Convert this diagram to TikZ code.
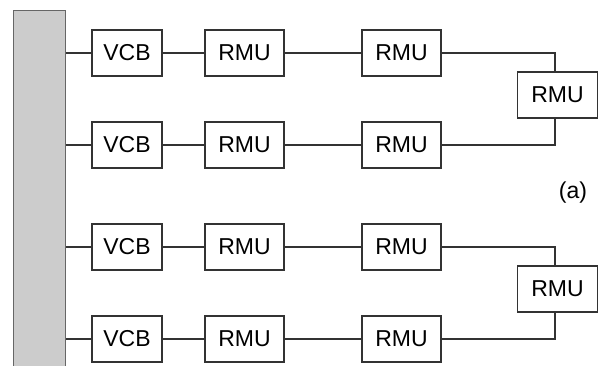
\documentclass[tikz,border=0pt]{standalone}
\usepackage{fontspec}
\setmainfont{Liberation Sans}
\definecolor{busfill}{HTML}{CCCCCC}
\definecolor{busline}{HTML}{666666}
\definecolor{wire}{HTML}{333333}
\begin{document}
\begin{tikzpicture}[x=1pt,y=-1pt,
  box/.style={draw=wire,line width=1.2pt,fill=white,minimum height=46pt,inner sep=0pt,
    font=\fontsize{23}{27}\selectfont},
  vcb/.style={box,minimum width=70pt},
  rmu/.style={box,minimum width=79pt},
  wireline/.style={draw=wire,line width=1.1pt}]
\useasboundingbox (0,0) rectangle (598,366);
\node[draw=busline,fill=busfill,line width=1.2pt,minimum width=52pt,minimum height=370pt,inner sep=0pt,anchor=north west] (bus) at (13,10) {};
% rows
\foreach \r/\y in {1/53,2/145,3/247,4/339}{
  \node[vcb] (v\r) at (127,\y) {VCB};
  \node[rmu] (a\r) at (244.5,\y) {RMU};
  \node[rmu] (b\r) at (401.5,\y) {RMU};
  \draw[wireline] (bus.east |- v\r.west) -- (v\r.west);
  \draw[wireline] (v\r) -- (a\r);
  \draw[wireline] (a\r) -- (b\r);
}
\node[rmu,minimum width=80pt] (c1) at (557.5,95) {RMU};
\node[rmu,minimum width=80pt] (c2) at (557.5,289) {RMU};
\coordinate (t1) at (555,53);
\coordinate (t2) at (555,145);
\coordinate (t3) at (555,247);
\coordinate (t4) at (555,339);
\draw[wireline] (b1.east) -- (t1) -- (t1 |- c1.north);
\draw[wireline] (b2.east) -- (t2) -- (t2 |- c1.south);
\draw[wireline] (b3.east) -- (t3) -- (t3 |- c2.north);
\draw[wireline] (b4.east) -- (t4) -- (t4 |- c2.south);
\node[font=\fontsize{23}{27}\selectfont] (lbl) at (573,193) {(a)};
\end{tikzpicture}
\end{document}
